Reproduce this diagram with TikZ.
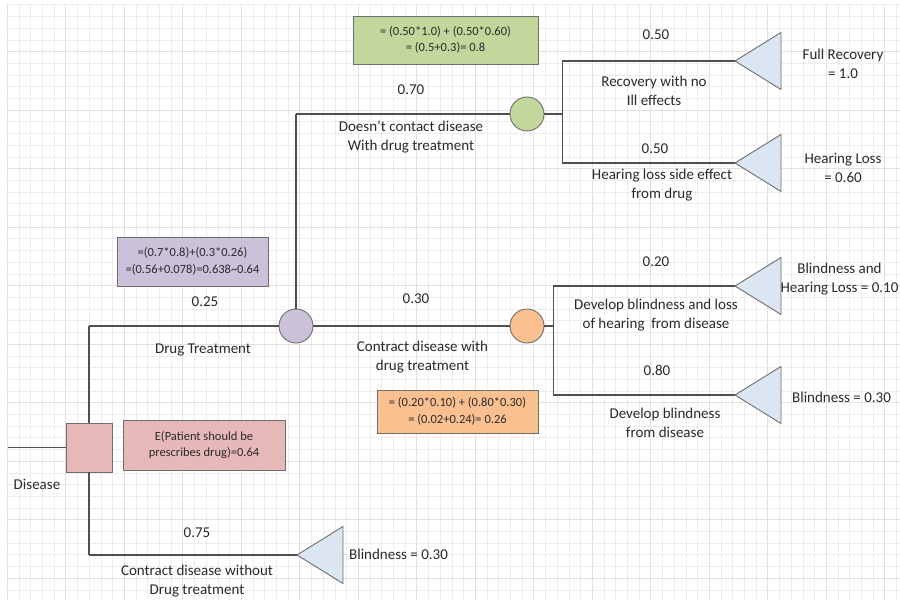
\documentclass[tikz,border=0pt]{standalone}
\usepackage{fontspec}
\setmainfont{Carlito}
\usetikzlibrary{calc}
\definecolor{gridminor}{HTML}{EDEDED}
\definecolor{gridmajor}{HTML}{E0E0E0}
\definecolor{linegray}{HTML}{505050}
\definecolor{bordergray}{HTML}{6E6E6E}
\definecolor{txtgray}{HTML}{2A2A2A}
\definecolor{greenfill}{HTML}{C3D69B}
\definecolor{purplefill}{HTML}{CCC1DA}
\definecolor{orangefill}{HTML}{FAC090}
\definecolor{pinkfill}{HTML}{E6B9B8}
\definecolor{trifill}{HTML}{DCE6F2}
\newcommand{\termtri}[3]{%
  \coordinate (#1) at (#2,#3);
  \draw[termtri] (#1) -- ++(46,-28.5) -- ++(0,57) -- cycle;}
\begin{document}
\begin{tikzpicture}[x=1pt,y=-1pt,
  lbl/.style={font=\fontsize{15}{19}\selectfont, text=txtgray, align=center, inner sep=0pt},
  boxtxt/.style={font=\fontsize{12.5}{16.5}\selectfont, text=txtgray, align=center, draw=bordergray, line width=0.9pt, inner sep=0pt},
  chance/.style={circle, draw=bordergray, line width=0.9pt, minimum size=34pt, inner sep=0pt},
  decbox/.style={rectangle, draw=bordergray, line width=0.9pt, fill=pinkfill, minimum width=46pt, minimum height=49pt, inner sep=0pt},
  termtri/.style={draw=bordergray, line width=0.9pt, fill=trifill, line join=miter},
  hline/.style={draw=linegray, line width=1.8pt},
  vline/.style={draw=linegray, line width=1.1pt},
  subline/.style={draw=linegray, line width=1.1pt},
]
\useasboundingbox (0,0) rectangle (900,604);
\fill[white] (0,0) rectangle (900,604);
% grid
\foreach \i in {0,...,76} {
  \pgfmathsetmacro{\gx}{7.3+11.7*\i}
  \pgfmathtruncatemacro{\m}{mod(\i,5)}
  \ifnum\m=0
    \draw[gridmajor, line width=0.9pt] (\gx,4) -- (\gx,600);
  \else
    \draw[gridminor, line width=0.8pt] (\gx,4) -- (\gx,600);
  \fi
}
\foreach \j in {0,...,50} {
  \pgfmathsetmacro{\gy}{4.9+11.7*\j}
  \pgfmathtruncatemacro{\m}{mod(\j,5)}
  \ifnum\m=4
    \draw[gridmajor, line width=0.9pt] (7.3,\gy) -- (900,\gy);
  \else
    \draw[gridminor, line width=0.8pt] (7.3,\gy) -- (900,\gy);
  \fi
}

% decision and chance nodes
\node[decbox] (dec) at (89,447.5) {};
\node[chance, fill=purplefill] (c1) at (296,326) {};
\node[chance, fill=greenfill] (c2) at (527,114) {};
\node[chance, fill=orangefill] (c3) at (527,326) {};

% terminal triangles
\termtri{t1}{735}{61}
\termtri{t2}{735}{163}
\termtri{t3}{735}{286}
\termtri{t4}{735}{395}
\termtri{t5}{297}{555}

% connectors
\coordinate (start) at (8,447.5);
\draw[hline] (start) -- (dec.west);
\coordinate (k1) at (dec.north |- c1.west);
\draw[vline] (dec.north) -- (k1);
\draw[hline] (k1) -- (c1.west);
\coordinate (k2) at (dec.south |- t5);
\draw[vline] (dec.south) -- (k2);
\draw[subline] (k2) -- (t5);
\coordinate (k3) at (c1.north |- c2.west);
\draw[vline] (c1.north) -- (k3);
\draw[hline] (k3) -- (c2.west);
\draw[hline] (c1.east) -- (c3.west);
\coordinate (j2) at ($(c2.east)+(18,0)$);
\draw[subline] (c2.east) -- (j2);
\draw[subline] (j2) |- (t1);
\draw[subline] (j2) |- (t2);
\coordinate (j3) at ($(c3.east)+(9,0)$);
\draw[subline] (c3.east) -- (j3);
\draw[subline] (j3) |- (t3);
\draw[subline] (j3) |- (t4);

% calculation boxes
\node[boxtxt, fill=greenfill, minimum width=185pt, minimum height=48pt] (gbox) at (445.5,40)
  {= (0.50*1.0) + (0.50*0.60)\\= (0.5+0.3)= 0.8};
\node[boxtxt, fill=purplefill, minimum width=151pt, minimum height=49pt] (pbox) at (192.5,261.5)
  {=(0.7*0.8)+(0.3*0.26)\\=(0.56+0.078)=0.638\textasciitilde0.64};
\node[boxtxt, fill=orangefill, minimum width=161pt, minimum height=43pt] (obox) at (457.5,411.5)
  {= (0.20*0.10) + (0.80*0.30)\\= (0.02+0.24)= 0.26};
\node[boxtxt, fill=pinkfill, minimum width=162pt, minimum height=50pt] (ebox) at (204,445)
  {E(Patient should be\\prescribes drug)=0.64};

% labels
\node[lbl] (l070) at (411,90) {0.70};
\node[lbl] (dcd) at (411,137.5) {Doesn’t contact disease\\With drug treatment};
\node[lbl] (l050a) at (656,35) {0.50};
\node[lbl] (rec) at (654,90.5) {Recovery with no\\Ill effects};
\node[lbl] (l050b) at (655,149) {0.50};
\node[lbl] (hls) at (662,185.5) {Hearing loss side effect\\from drug};
\node[lbl] (fr) at (843,64) {Full Recovery\\= 1.0};
\node[lbl] (hl) at (843,167.5) {Hearing Loss\\= 0.60};
\node[lbl] (l025) at (205,302) {0.25};
\node[lbl] (dt) at (203,350) {Drug Treatment};
\node[lbl] (l030) at (416,299) {0.30};
\node[lbl] (cdw) at (422.5,357.5) {Contract disease with\\drug treatment};
\node[lbl] (l020) at (656,262) {0.20};
\node[lbl] (dbl) at (656,315.5) {Develop blindness and loss\\of hearing\ \ from disease};
\node[lbl] (l080) at (657,370) {0.80};
\node[lbl] (db) at (665,422.5) {Develop blindness\\from disease};
\node[lbl] (bhl) at (839.5,279) {Blindness and\\Hearing Loss = 0.10};
\node[lbl, anchor=west] (b030a) at (792,397) {Blindness = 0.30};
\node[lbl] (dis) at (37,484) {Disease};
\node[lbl] (l075) at (197,533) {0.75};
\node[lbl] (cdwo) at (197,581.5) {Contract disease without\\Drug treatment};
\node[lbl, anchor=west] (b030b) at (349,554) {Blindness = 0.30};
\end{tikzpicture}
\end{document}
